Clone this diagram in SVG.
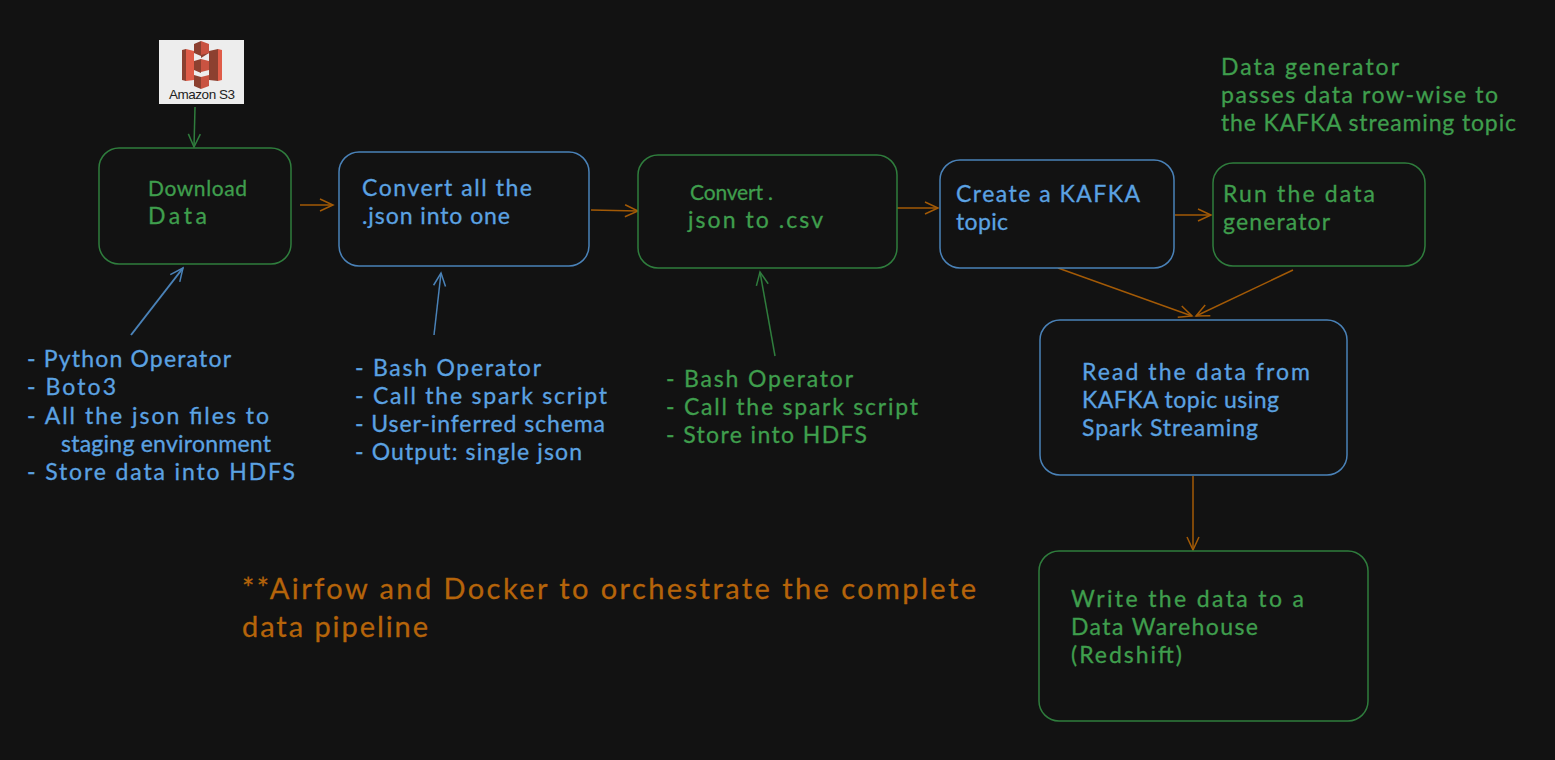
<svg xmlns="http://www.w3.org/2000/svg" width="1555" height="760" viewBox="0 0 1555 760">
<style>
text{font-family:"Lato","Noto Sans",sans-serif;font-size:23px;stroke-width:.3;paint-order:stroke}
.g{fill:#3f9e4d;stroke:#3f9e4d}.b{fill:#5ba2e2;stroke:#5ba2e2}.o{fill:#b5640a;stroke:#b5640a;font-size:29px}
.s{font-size:21px}
.box{fill:#121212;stroke-width:1.5}
.bg{stroke:#2f7d3d}.bb{stroke:#4a82b8}
.c{fill:none;stroke-width:1.5}
.t{stroke-width:2}
.co{stroke:#a35a06}.cg{stroke:#2f7d3d}.cb{stroke:#4a82b8}
.co{marker-end:url(#ho)}.cg{marker-end:url(#hg)}.cb{marker-end:url(#hb)}
</style>
<defs>
<marker id="ho" markerUnits="userSpaceOnUse" markerWidth="20" markerHeight="20" refX="15" refY="10" orient="auto"><path d="M2 4L15 10L2 16" fill="none" stroke="#a35a06" stroke-width="1.5"/></marker>
<marker id="hg" markerUnits="userSpaceOnUse" markerWidth="20" markerHeight="20" refX="15" refY="10" orient="auto"><path d="M2 4L15 10L2 16" fill="none" stroke="#2f7d3d" stroke-width="1.5"/></marker>
<marker id="hb" markerUnits="userSpaceOnUse" markerWidth="20" markerHeight="20" refX="15" refY="10" orient="auto"><path d="M2 4L15 10L2 16" fill="none" stroke="#4a82b8" stroke-width="1.5"/></marker>
</defs>
<rect width="1555" height="760" fill="#121212"/>
<g id="connectors">
<path class="c cg" d="M195 107L194 147"/>
<path class="c co" d="M300 205L333 205"/>
<path class="c co" d="M591 210L638 211"/>
<path class="c co" d="M897 208L938 208"/>
<path class="c co" d="M1175 215L1211 215"/>
<path class="c co" d="M1058 268L1192 316"/>
<path class="c co" d="M1293 270L1196 316"/>
<path class="c co" d="M1193 476L1193 550"/>
<path class="c cb t" d="M131 335L183 268"/>
<path class="c cb" d="M434 335L441 273"/>
<path class="c cg" d="M775 356L760 272"/>
</g>
<g id="s3">
<rect x="159" y="40" width="85" height="64" fill="#ededed"/>
<path fill="#8c4030" d="M182 50L186 49V81L182 80ZM209 51L218 49V81L209 80Z"/>
<path fill="#e05c48" d="M186 49L194 51V80L186 81ZM218 49L222 50V80L218 81Z"/>
<path fill="#8c4030" d="M194 44L201 41V56L194 53ZM194 61L201 59V73L194 70ZM194 75L201 77V89L194 86ZM201 53L209 53L201 58Z"/>
<path fill="#c95341" d="M201 41L209 44V53L201 55ZM201 59L209 61V70L201 72ZM201 77L209 75V86L201 89Z"/>
<text x="169" y="99" textLength="66" style="font-family:'Liberation Sans',sans-serif;font-size:13.5px;fill:#222;stroke:none">Amazon S3</text>
</g>
<g id="download"><rect class="box bg" x="99" y="148" width="192" height="116" rx="20"/>
<text class="g s" x="148" y="196" textLength="99">Download</text><text class="g" x="148" y="224" textLength="59">Data</text></g>
<g id="convert-json"><rect class="box bb" x="339" y="152" width="250" height="114" rx="20"/>
<text class="b" x="362" y="196" textLength="170">Convert all the</text><text class="b" x="362" y="224" textLength="148">.json into one</text></g>
<g id="convert-csv"><rect class="box bg" x="638" y="155" width="259" height="113" rx="20"/>
<text class="g s" x="690" y="200" textLength="83">Convert .</text><text class="g" x="688" y="228" textLength="135">json to .csv</text></g>
<g id="create-topic"><rect class="box bb" x="940" y="160" width="234" height="108" rx="20"/>
<text class="b" x="956" y="202" textLength="184">Create a KAFKA</text><text class="b" x="956" y="230" textLength="52">topic</text></g>
<g id="run-generator"><rect class="box bg" x="1213" y="163" width="212" height="103" rx="20"/>
<text class="g" x="1223" y="202" textLength="152">Run the data</text><text class="g" x="1223" y="230" textLength="107">generator</text></g>
<g id="read-stream"><rect class="box bb" x="1040" y="320" width="307" height="155" rx="20"/>
<text class="b" x="1082" y="380" textLength="228">Read the data from</text><text class="b" x="1082" y="408" textLength="197">KAFKA topic using</text><text class="b" x="1082" y="436" textLength="176">Spark Streaming</text></g>
<g id="write-warehouse"><rect class="box bg" x="1039" y="551" width="329" height="170" rx="20"/>
<text class="g" x="1071" y="607" textLength="233">Write the data to a</text><text class="g" x="1071" y="635" textLength="187">Data Warehouse</text><text class="g" x="1071" y="663" textLength="111">(Redshift)</text></g>
<g id="note-generator">
<text class="g" x="1221" y="75" textLength="178">Data generator</text><text class="g" x="1221" y="103" textLength="277">passes data row-wise to</text><text class="g" x="1221" y="131" textLength="295">the KAFKA streaming topic</text></g>
<g id="note-python">
<text class="b" x="27" y="367" textLength="204">- Python Operator</text><text class="b" x="27" y="395" textLength="89">- Boto3</text><text class="b" x="27" y="424" textLength="242">- All the json files to</text><text class="b" x="61" y="452" textLength="210">staging environment</text><text class="b" x="27" y="480" textLength="268">- Store data into HDFS</text></g>
<g id="note-bash">
<text class="b" x="355" y="376" textLength="186">- Bash Operator</text><text class="b" x="355" y="404" textLength="252">- Call the spark script</text><text class="b" x="355" y="432" textLength="250">- User-inferred schema</text><text class="b" x="355" y="460" textLength="227">- Output: single json</text></g>
<g id="note-bash-csv">
<text class="g" x="666" y="387" textLength="187">- Bash Operator</text><text class="g" x="666" y="415" textLength="252">- Call the spark script</text><text class="g" x="666" y="443" textLength="201">- Store into HDFS</text></g>
<g id="note-orchestrate">
<text class="o" x="242" y="599" textLength="734">**Airfow and Docker to orchestrate the complete</text><text class="o" x="242" y="637" textLength="186">data pipeline</text></g>
</svg>
